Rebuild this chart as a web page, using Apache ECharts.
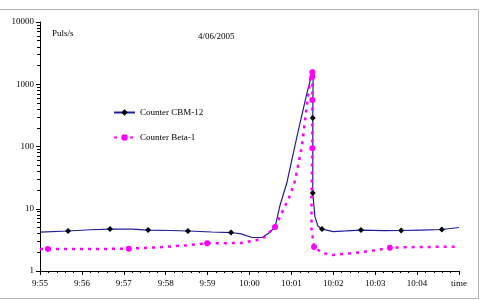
<!DOCTYPE html>
<html>
<head>
<meta charset="utf-8">
<script src="https://cdn.jsdelivr.net/npm/echarts@6/dist/echarts.min.js"></script>
<style>
  html, body { margin: 0; padding: 0; background: #fff; }
  #chart { width: 481px; height: 300px; }
</style>
</head>
<body>
<div id="chart"></div>
<script>
// minutes since 9:55
const xTickLabels = ['9:55', '9:56', '9:57', '9:58', '9:59', '10:00', '10:01', '10:02', '10:03', '10:04', 'time']
const yTickLabels = [1, 10, 100, 1000, 10000]

// Counter CBM-12
const cbmTime = [0, 0.67, 1.2, 1.67, 2.2, 2.58, 3.1, 3.53, 4.1, 4.56, 4.8, 5.06, 5.3, 5.45, 5.61, 5.73, 5.89, 6.13, 6.37, 6.52, 6.51, 6.51, 6.56, 6.63, 6.73, 7.0, 7.3, 7.66, 8.2, 8.62, 9.1, 9.59, 10.0]
const cbmValue = [4.2, 4.39, 4.6, 4.72, 4.72, 4.55, 4.47, 4.39, 4.23, 4.15, 3.95, 3.45, 3.45, 4.0, 5.08, 11.5, 25.9, 141, 720, 1740, 286, 17.9, 7.6, 5.3, 4.72, 4.3, 4.4, 4.55, 4.45, 4.47, 4.55, 4.64, 5.0]
const cbmMarked = [1, 3, 5, 7, 9, 14, 20, 21, 24, 27, 29, 31]

// Counter Beta-1
const betaTime = [0, 0.19, 1.2, 2.12, 2.9, 3.5, 3.99, 4.8, 5.3, 5.61, 5.97, 6.09, 6.25, 6.37, 6.47, 6.49, 6.5, 6.5, 6.5, 6.5, 6.48, 6.48, 6.54, 6.73, 6.98, 7.5, 7.88, 8.35, 9.0, 10.0]
const betaValue = [2.25, 2.25, 2.25, 2.28, 2.42, 2.6, 2.78, 2.82, 3.26, 5.08, 16.6, 29, 100, 460, 1560, 1680, 1560, 1320, 560, 94, 14, 4.72, 2.43, 1.95, 1.81, 1.95, 2.09, 2.37, 2.43, 2.46]
const betaMarked = [1, 3, 6, 9, 16, 17, 18, 19, 22, 27]

const buildData = (times, values, marked) =>
  times.map((t, i) => {
    const item = { value: [t, values[i]] }
    if (!marked.includes(i)) item.symbol = 'none'
    return item
  })

const chart = echarts.init(document.getElementById('chart'))

const serif = 'Liberation Serif'

const option = {
  animation: false,
  backgroundColor: '#fff',
  grid: { left: 40, right: 22, top: 22, bottom: 29 },
  legend: {
    orient: 'vertical',
    left: 108,
    top: 103,
    itemWidth: 21,
    itemHeight: 8,
    itemGap: 16,
    textStyle: { fontFamily: serif, fontSize: 9, color: '#000', padding: [0, 0, 0, 0] },
    data: ['Counter CBM-12', 'Counter Beta-1']
  },
  xAxis: {
    type: 'value',
    min: 0,
    max: 10,
    interval: 1,
    axisLine: { lineStyle: { color: '#000', width: 1 } },
    axisTick: { length: 4, lineStyle: { color: '#000' } },
    minorTick: { show: true, splitNumber: 5, length: 2, lineStyle: { color: '#000' } },
    splitLine: { show: false },
    axisLabel: {
      fontFamily: serif,
      fontSize: 9,
      color: '#000',
      margin: 8,
      formatter: v => xTickLabels[Math.round(v)]
    }
  },
  yAxis: {
    type: 'log',
    logBase: 10,
    min: 1,
    max: 10000,
    axisLine: { show: true, lineStyle: { color: '#000', width: 1 } },
    axisTick: { show: true, length: 4, lineStyle: { color: '#000' } },
    minorTick: { show: true, splitNumber: 9, length: 3, lineStyle: { color: '#000' } },
    splitLine: { show: false },
    axisLabel: {
      fontFamily: serif,
      fontSize: 9,
      color: '#000',
      margin: 6,
      formatter: v => (yTickLabels.includes(v) ? String(v) : '')
    }
  },
  graphic: [
    {
      type: 'rect',
      shape: { x: -2.5, y: 9.5, width: 481, height: 289 },
      style: { fill: 'none', stroke: '#b4b4b4', lineWidth: 1 },
      silent: true
    },
    {
      type: 'text',
      left: 52,
      top: 29,
      style: { text: 'Puls/s', font: '9px "Liberation Serif"', fill: '#000' }
    },
    {
      type: 'text',
      left: 198,
      top: 32,
      style: { text: '4/06/2005', font: '9px "Liberation Serif"', fill: '#000' }
    }
  ],
  series: [
    {
      name: 'Counter CBM-12',
      type: 'line',
      data: buildData(cbmTime, cbmValue, cbmMarked),
      symbol: 'diamond',
      symbolSize: 6,
      showAllSymbol: true,
      itemStyle: { color: '#000' },
      lineStyle: { color: '#1f1f99', width: 1.2 }
    },
    {
      name: 'Counter Beta-1',
      type: 'line',
      data: buildData(betaTime, betaValue, betaMarked),
      symbol: 'circle',
      symbolSize: 6,
      showAllSymbol: true,
      itemStyle: { color: '#ff00ff' },
      lineStyle: { color: '#ff00ff', width: 2.5, type: [3, 5] }
    }
  ]
}

chart.setOption(option)
</script>
</body>
</html>
